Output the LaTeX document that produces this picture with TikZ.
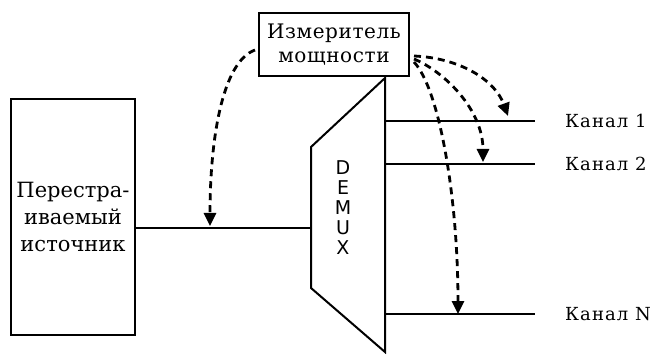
\documentclass[tikz,border=0pt]{standalone}
\usepackage{fontspec}
\setmainfont{DejaVu Serif}
\newfontfamily\demuxfont{DejaVu Sans}
\usetikzlibrary{arrows.meta}
\begin{document}
\begin{tikzpicture}[x=1pt,y=-1pt,
  box/.style={draw,line width=2pt,inner sep=0pt,align=center},
  wire/.style={line width=1.5pt},
  probe/.style={line width=2.8pt,dash pattern=on 7pt off 5pt,-{Triangle[length=13pt,width=12pt]}},
  lbl/.style={anchor=west,font=\fontsize{18}{20}\selectfont\addfontfeature{LetterSpace=6},inner sep=0pt}]
\useasboundingbox (0,0) rectangle (658,355);
% power meter
\node[box,minimum width=150pt,minimum height=63pt,font=\fontsize{20}{24}\selectfont\addfontfeature{LetterSpace=3}] (m) at (334,44.5) {Измеритель\\мощности};
% tunable source
\node[box,minimum width=124pt,minimum height=236pt,font=\fontsize{21}{27}\selectfont] (src) at (73,217) {Перестра-\\иваемый\\источник};
% demux
\coordinate (dtl) at (311,147);
\coordinate (dbl) at (311,288);
\coordinate (dtr) at (385,78);
\coordinate (dbr) at (385,352);
\draw[line width=2pt,line join=miter] (dtr) -- (dtl) -- (dbl) -- (dbr) -- cycle;
\node[align=center,font=\demuxfont\fontsize{19}{20}\selectfont,inner sep=0pt] (dm) at (343,208) {D\\E\\M\\U\\X};
\coordinate (din) at (311,228);
\draw[wire] (src.east |- din) -- (din);
% channels
\coordinate (o1) at (385,121);
\coordinate (o2) at (385,164);
\coordinate (oN) at (385,314);
\node[lbl] (k1) at (565,121) {Канал 1};
\node[lbl] (k2) at (565,164) {Канал 2};
\node[lbl] (kN) at (565,314) {Канал N};
\coordinate (e1) at (535,121);
\coordinate (e2) at (535,164);
\coordinate (eN) at (535,314);
\draw[wire] (o1) -- (e1);
\draw[wire] (o2) -- (e2);
\draw[wire] (oN) -- (eN);
% probe arrows
\coordinate (s0) at (255,50);
\coordinate (t0) at (210,226);
\coordinate (s1) at (414,56);
\coordinate (t1) at (508,116);
\coordinate (s2) at (414,59);
\coordinate (t2) at (483,162);
\coordinate (s3) at (414,62);
\coordinate (t3) at (458,314);
\draw[probe] (s0) .. controls (222,62) and (210,140) .. (t0);
\draw[probe] (s1) .. controls (460,58) and (495,80) .. (t1);
\draw[probe] (s2) .. controls (445,72) and (483,110) .. (t2);
\draw[probe] (s3) .. controls (440,90) and (458,200) .. (t3);
\end{tikzpicture}
\end{document}
